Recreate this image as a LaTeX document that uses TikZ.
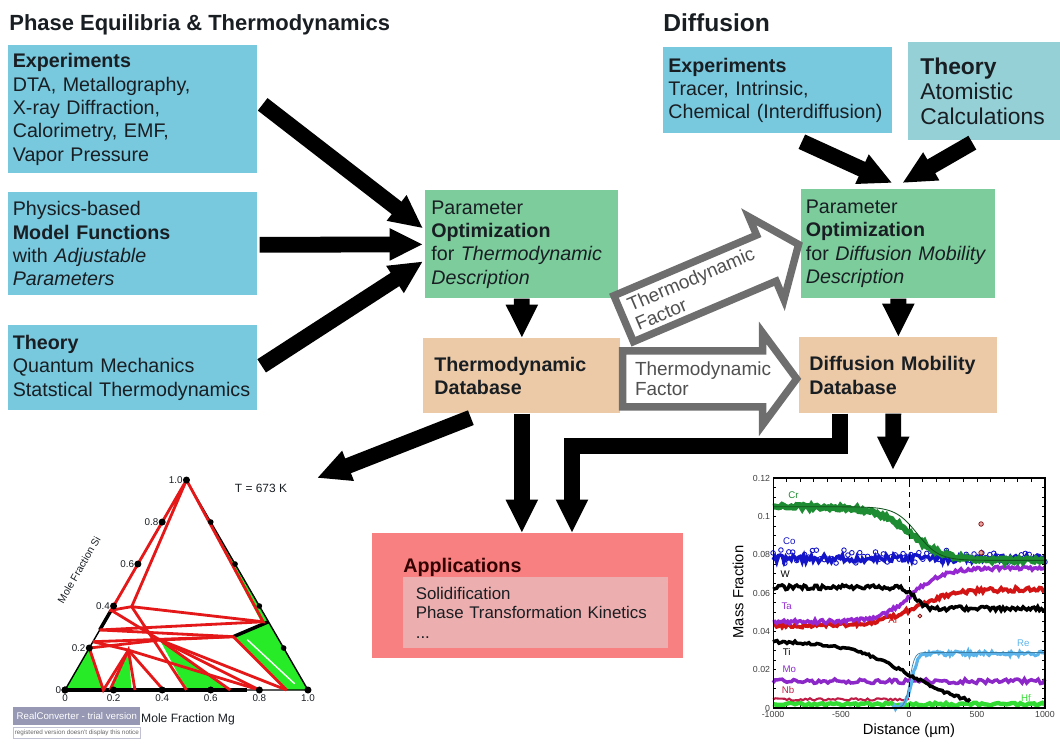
\documentclass[tikz,border=0pt]{standalone}
\usepackage{fontspec}
\setmainfont{Liberation Sans}
\usetikzlibrary{arrows.meta,calc,positioning,plotmarks}
\definecolor{mblue}{RGB}{120,200,222}
\definecolor{mteal}{RGB}{148,208,214}
\definecolor{mgreen}{RGB}{124,204,156}
\definecolor{mtan}{RGB}{236,202,168}
\definecolor{msalmon}{RGB}{248,128,128}
\definecolor{mpink}{RGB}{236,174,174}
\definecolor{mgray}{RGB}{110,110,110}
\definecolor{mfac}{RGB}{80,80,80}
\definecolor{mtxt}{RGB}{25,30,35}
\definecolor{mred}{RGB}{228,24,24}
\definecolor{tgreen}{RGB}{40,235,40}
\definecolor{wmgray}{RGB}{150,152,180}
\definecolor{ccr}{RGB}{30,140,50}
\definecolor{cco}{RGB}{20,20,200}
\definecolor{cta}{RGB}{150,40,210}
\definecolor{cal}{RGB}{210,20,20}
\definecolor{cre}{RGB}{90,180,235}
\definecolor{cmo}{RGB}{140,40,200}
\definecolor{cnb}{RGB}{190,30,70}
\definecolor{chf}{RGB}{50,220,50}
\tikzstyle{box}=[anchor=north west, inner ysep=0pt, align=left, text=mtxt, font=\fontsize{11.2}{13.3}\selectfont]
\tikzstyle{ttl}=[anchor=base west, inner sep=0pt, text=mtxt, font=\fontsize{12.5}{15}\selectfont\bfseries]
\tikzstyle{arr}=[line width=9pt, -{Triangle[length=19pt, width=17pt]}, line join=miter]
\tikzstyle{hollow}=[draw=mgray, line width=4.2pt, fill=white, line join=miter]
\tikzstyle{factor}=[anchor=west, align=left, inner sep=0pt, text=mfac, font=\fontsize{10.8}{11.8}\selectfont]
\tikzstyle{tie}=[draw=mred, line width=1.6pt]
\tikzstyle{tlab}=[inner sep=0.5pt, text=mtxt, font=\fontsize{5.6}{6.5}\selectfont]
\tikzstyle{clab}=[inner sep=0pt, font=\fontsize{5.5}{6}\selectfont]
\tikzstyle{ctick}=[inner sep=1.5pt, text=black!75, font=\fontsize{5}{6}\selectfont]
\tikzstyle{ctk}=[line width=0.4pt]

\begin{document}
\begin{tikzpicture}[x=0.02cm, y=-0.02cm, declare function={sg(\a)=tanh(max(-4,min(4,\a)));}]
    \useasboundingbox (0,0) rectangle (1060,743);

    \node[ttl] (phtitle) at (9,31) {Phase Equilibria \& Thermodynamics};
    \node[ttl, font=\fontsize{14}{16}\selectfont\bfseries] (dftitle) at (663,32) {Diffusion};

    % thermodynamics
    \node[box, fill=mblue, minimum width=4.98cm, minimum height=2.56cm, inner xsep=0.09cm, text width=4.8cm] (exper) at (8,45) {\textbf{Experiments}\\DTA, Metallography,\\X-ray Diffraction,\\Calorimetry, EMF,\\Vapor Pressure};
    \node[box, fill=mblue, minimum width=4.98cm, minimum height=2.06cm, inner xsep=0.09cm, text width=4.8cm] (model) at (8,192) {Physics-based\\\textbf{Model Functions}\\with \textit{Adjustable}\\\textit{Parameters}};
    \node[box, fill=mblue, minimum width=4.98cm, minimum height=1.7cm, inner xsep=0.09cm, text width=4.8cm] (theory) at (8,325) {\textbf{Theory}\\Quantum Mechanics\\Statstical Thermodynamics};
    \node[box, fill=mgreen, minimum width=3.86cm, minimum height=2.16cm, inner xsep=0.12cm, text width=3.62cm] (thopt) at (425,190) {Parameter\\\textbf{Optimization}\\for \textit{Thermodynamic}\\\textit{Description}};
    \node[box, fill=mtan, minimum width=3.94cm, minimum height=1.5cm, inner xsep=0.22cm, text width=3.5cm] (thdb) at (423,338) {\textbf{Thermodynamic}\\\textbf{Database}};

    % diffusion
    \node[box, fill=mblue, minimum width=4.58cm, minimum height=1.72cm, inner xsep=0.1cm, text width=4.38cm] (dexper) at (663,47) {\textbf{Experiments}\\Tracer, Intrinsic,\\Chemical (Interdiffusion)};
    \node[box, fill=mteal, minimum width=3.04cm, minimum height=1.96cm, inner xsep=0.24cm, text width=2.56cm, font=\fontsize{13}{14.5}\selectfont] (dtheory) at (908,42) {\textbf{Theory}\\Atomistic\\Calculations};
    \node[box, fill=mgreen, minimum width=3.88cm, minimum height=2.18cm, inner xsep=0.09cm, text width=3.7cm] (dopt) at (801,189) {Parameter\\\textbf{Optimization}\\for \textit{Diffusion Mobility}\\\textit{Description}};
    \node[box, fill=mtan, minimum width=3.96cm, minimum height=1.52cm, inner xsep=0.2cm, text width=3.56cm] (ddb) at (799,337) {\textbf{Diffusion Mobility}\\\textbf{Database}};

    % applications
    \node[box, fill=msalmon, minimum width=6.22cm, minimum height=2.5cm] (apps) at (372,533) {};
    \node[ttl, font=\fontsize{11.2}{13}\selectfont\bfseries, text=black!80!red] (appttl) at (403,572) {Applications};
    \node[box, fill=mpink, minimum width=5.3cm, minimum height=1.42cm, inner xsep=0.25cm, text width=4.8cm, font=\fontsize{9.6}{11.3}\selectfont] (appin) at (403,577) {Solidification\\Phase Transformation Kinetics\\...};

    % thermodynamic factor
    \begin{scope}[shift={($(thopt.south east)+(5,20)$)}, rotate=23]
        \draw[hollow] (0,-25) -- (155,-25) -- (155,-45) -- (190,0) -- (155,45) -- (155,25) -- (0,25) -- cycle;
        \node[factor, rotate=23] (tfd) at (9,0) {Thermodynamic\\Factor};
    \end{scope}
    \begin{scope}[shift={($(thdb.east)+(2,3)$)}]
        \draw[hollow] (0,-28) -- (140,-28) -- (140,-46) -- (174,0) -- (140,46) -- (140,28) -- (0,28) -- cycle;
        \node[factor] (tfh) at (12,0) {Thermodynamic\\Factor};
    \end{scope}

    \coordinate (tern) at (317,478);
    \coordinate (chart) at (893,470);
    \coordinate (elb) at (572,446);

    \draw[arr] ($(exper.east)+(5,-5)$) -- ($(thopt.west)+(-2,-16)$);
    \draw[arr] ($(model.east)+(2,1)$) -- ($(thopt.west)+(-2,0)$);
    \draw[arr] ($(theory.east)+(4,-2)$) -- ($(thopt.west)+(-2,17)$);
    \draw[arr] (thopt.south) -- (thdb.north);
    \draw[arr] ($(dexper.south)+(24,8)$) -- ($(dopt.north)+(-6,-6)$);
    \draw[arr] ($(dtheory.south)+(-12,2)$) -- ($(dopt.north)+(4,-6)$);
    \draw[arr] (dopt.south) -- (ddb.north);
    \draw[arr] ($(thdb.south)+(-51,4)$) -- (tern);
    \draw[arr] (thdb.south) -- (thdb.south |- apps.north);
    \draw[arr] ($(ddb.south)+(-58,0)$) |- (elb) -- (elb |- apps.north);
    \draw[arr] ($(ddb.south)+(-5,0)$) -- (chart);

    % ternary section
    \begin{scope}[shift={(65,690)}, x={(4.86cm,0cm)}, y={(2.43cm,4.2cm)}]
        \fill[tgreen] (0,0) -- (0,0.2) -- (0.158,0) -- cycle;
        \fill[tgreen] (0.185,0) -- (0.166,0.19) -- (0.274,0) -- cycle;
        \fill[tgreen] (0.272,0.238) -- (0.5,0) -- (0.68,0) -- cycle;
        \fill[tgreen] (0.566,0.254) -- (0.675,0.325) -- (1,0) -- (0.912,0) -- cycle;
        \fill[tgreen] (0,1) -- (0.675,0.325) -- (0.645,0.325) -- cycle;
        \draw[white, line width=0.8pt] (0.63,0.24) -- (0.93,0.03);
        \draw[line width=0.8pt] (0,0) -- (1,0) -- (0,1) -- cycle;
        \draw[line width=2.5pt] (0,0) -- (0.75,0);
        \draw[line width=2pt] (0,0.286) -- (0,0.38);
        \draw[line width=2pt] (0.566,0.254) -- (0.675,0.325);
        \draw[tie] (0,1) -- (0,0.38) -- (0.076,0.397) -- cycle;
        \draw[tie] (0,1) -- (0.653,0.325) -- (0.076,0.397);
        \draw[tie] (0,0.38) -- (0.272,0.238);
        \draw[tie] (0.076,0.397) -- (0.5,0);
        \draw[tie] (0,0.286) -- (0.653,0.325);
        \draw[tie] (0,0.286) -- (0.566,0.254);
        \draw[tie] (0,0.23) -- (0.566,0.254);
        \draw[tie] (0.272,0.238) -- (0.566,0.254);
        \draw[tie] (0,0.2) -- (0.272,0.238);
        \draw[tie] (0,0.23) -- (0.166,0.19);
        \draw[tie] (0,0.2) -- (0.158,0) -- (0.166,0.19);
        \draw[tie] (0.185,0) -- (0.166,0.19) -- (0.288,0);
        \draw[tie] (0.166,0.19) -- (0.405,0);
        \draw[tie] (0.166,0.19) -- (0.8,0);
        \draw[tie] (0.272,0.238) -- (0.8,0);
        \draw[tie] (0.272,0.238) -- (0.912,0);
        \draw[tie] (0.272,0.238) -- (0.68,0);
        \draw[tie] (0.566,0.254) -- (0.912,0);
        \foreach \t in {0,0.2,0.4,0.6,0.8,1} {
            \fill (\t,0) circle (2pt);
            \fill (0,\t) circle (2pt);
            \fill (1-\t,\t) circle (1.6pt);
        }
        \foreach \t/\l [count=\i] in {0/0,0.2/0.2,0.4/0.4,0.6/0.6,0.8/0.8,1/1.0} {
            \node[tlab, below=2pt] (tb\i) at (\t,0) {\l};
            \node[tlab, left=1.5pt] (tl\i) at (0,\t) {\l};
        }
    \end{scope}
    \node[tlab, rotate=60, font=\fontsize{5.9}{7}\selectfont] (tsi) at (79,570) {Mole Fraction Si};
    \node[tlab, font=\fontsize{6.9}{8}\selectfont] (tmg) at (188,719) {Mole Fraction Mg};
    \node[tlab, font=\fontsize{6.8}{8}\selectfont] (ttemp) at (261,488) {T = 673 K};
    \node[anchor=north west, fill=wmgray, text=white, minimum width=2.54cm, minimum height=0.36cm, inner sep=0pt, font=\fontsize{5.5}{6}\selectfont] (wm) at (13,707) {RealConverter - trial version};
    \node[anchor=north west, draw=wmgray!60, fill=white, text=black!60, minimum width=2.54cm, minimum height=0.22cm, inner sep=0pt, font=\fontsize{3.6}{4}\selectfont] (wmnote) at (13,727) {registered version doesn't display this notice};

    % diffusion profiles
    \begin{scope}[shift={(909,708)}, x={(0.272cm,0cm)}, y={(0cm,0.3834cm)}]
        \pgfmathsetseed{11}
        \foreach \t in {-10,...,10} {
            \draw[ctk] (\t,0) -- (\t,0.2);
            \draw[ctk] (\t,12) -- (\t,11.8);
        }
        \foreach \t in {0,0.5,...,12} {
            \draw[ctk] (-10,\t) -- (-9.8,\t);
            \draw[ctk] (10,\t) -- (9.8,\t);
        }
        \draw[chf, line width=2.5pt] plot[domain=-10:10, samples=100] (\x,{0.2+0.08*rand});
        \draw[cnb, line width=1.2pt] plot[domain=-10:0, samples=60] (\x,{0.45+0.06*rand});
        \draw[cmo, line width=2pt] plot[domain=-10:10, samples=120] (\x,{1.4+0.12*rand});
        \draw[cre, line width=1.8pt] plot[domain=-1.2:10, samples=110] (\x,{2.85*(1+sg((\x-0.2)/0.5))/2+0.12*rand});
        \draw[cre!70!black, line width=0.4pt] plot[domain=-1:10, samples=80] (\x,{2.9*(1+sg((\x-0.05)/0.35))/2});
        \draw[black, line width=2pt] plot[domain=-10:4.5, samples=100] (\x,{3.5*(1-sg(\x/4.5))/2+0.07*rand});
        \draw[cal, line width=2.2pt] plot[domain=-10:10, samples=150] (\x,{4.3+1.9*(1+sg((\x-0.5)/3))/2+0.12*rand});
        \draw[cta, line width=2pt] plot[domain=-10:10, samples=150] (\x,{4.5+2.8*(1+sg((\x-0.2)/2.3))/2+0.1*rand});
        \draw[black, line width=2pt] plot[domain=-10:10, samples=150] (\x,{5.2+1.1*(1-sg((\x-0.4)/0.7))/2+0.12*rand});
        \draw[cco, line width=2pt] plot[domain=-10:10, samples=150] (\x,{7.8+0.2*rand});
        \draw[cco, line width=0.5pt] plot[only marks, mark=o, mark size=1.3pt, domain=-10:10, samples=70] (\x,{7.9+0.35*rand});
        \draw[ccr, line width=3.4pt] plot[domain=-10:10, samples=150] (\x,{7.7+2.8*(1-sg((\x-0.1)/2.5))/2+0.1*rand});
        \draw[ccr!60!black, line width=0.5pt] plot[domain=-10:10, samples=100] (\x,{7.7+2.8*(1-sg((\x-0.6)/1.6))/2});
        \filldraw[draw=cal!60!black, fill=cal!40] (5.3,9.6) circle (1.3pt) (5.3,8.1) circle (1.3pt) (0.8,4.8) circle (1.1pt);
        \draw[dashed, line width=0.5pt] (0,0) -- (0,12);
        \draw[line width=0.6pt] (-10,0) rectangle (10,12);
        \node[clab, text=ccr] (lcr) at (-8.5,11.1) {Cr};
        \node[clab, text=cco] (lco) at (-8.8,8.7) {Co};
        \node[clab] (lw) at (-9.1,7.0) {W};
        \node[clab, text=cta] (lta) at (-9,5.3) {Ta};
        \node[clab, text=cal] (lal) at (-1.2,4.6) {Al};
        \node[clab] (lti) at (-9,2.9) {Ti};
        \node[clab, text=cre] (lre) at (8.4,3.4) {Re};
        \node[clab, text=cmo] (lmo) at (-8.8,2.0) {Mo};
        \node[clab, text=cnb] (lnb) at (-8.9,0.95) {Nb};
        \node[clab, text=chf] (lhf) at (8.6,0.5) {Hf};
        \foreach \t/\l [count=\i] in {0/0,2/0.02,4/0.04,6/0.06,8/0.08,10/0.1,12/0.12} {
            \node[ctick, left] (cy\i) at (-10,\t) {\l};
        }
        \foreach \t/\l [count=\i] in {-10/-1000,-5/-500,0/0,5/500,10/1000} {
            \node[ctick, below] (cx\i) at (\t,0) {\l};
        }
    \end{scope}
    \node[font=\fontsize{8.4}{10}\selectfont, rotate=90, inner sep=0pt] (cylab) at (738,592) {Mass Fraction};
    \node[font=\fontsize{8.4}{10}\selectfont, inner sep=0pt] (cxlab) at (909,731) {Distance (µm)};
\end{tikzpicture}
\end{document}
